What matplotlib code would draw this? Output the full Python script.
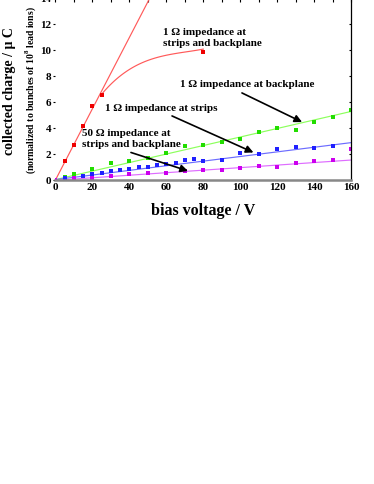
import numpy as np
import matplotlib
matplotlib.use("Agg")
import matplotlib.pyplot as plt
from matplotlib.ticker import MultipleLocator

plt.rcParams['font.family'] = ['Liberation Serif', 'DejaVu Serif']
plt.rcParams['font.weight'] = 'bold'
plt.rcParams['mathtext.fontset'] = 'custom'
plt.rcParams['mathtext.rm'] = 'Liberation Serif:bold'
plt.rcParams['mathtext.bf'] = 'Liberation Serif:bold'

# ---- data ----
red_V = [0, 5, 10, 15, 20, 25, 80]
red_Q = [0, 1.48, 2.75, 4.2, 5.72, 6.6, 9.87]
red_curve_V = [25, 33, 42, 51, 60, 70, 80]
red_curve_Q = [6.6, 7.8, 8.7, 9.25, 9.6, 9.9, 10.08]

green_V = [0, 5, 10, 20, 30, 40, 50, 60, 70, 80, 90, 100, 110, 120, 130, 140, 150, 160]
green_Q = [0, 0.25, 0.45, 0.85, 1.33, 1.48, 1.75, 2.08, 2.62, 2.74, 2.95, 3.18, 3.69, 4.05, 3.9, 4.49, 4.9, 5.44]

blue_V = [0, 5, 10, 15, 20, 25, 30, 35, 40, 45, 50, 55, 60, 65, 70, 75, 80, 90, 100, 110, 120, 130, 140, 150]
blue_Q = [0, 0.18, 0.2, 0.3, 0.45, 0.6, 0.68, 0.8, 0.85, 1.0, 1.02, 1.18, 1.28, 1.35, 1.58, 1.66, 1.49, 1.54, 2.13, 2.0, 2.43, 2.54, 2.49, 2.64]

mag_V = [0, 10, 20, 30, 40, 50, 60, 70, 80, 90, 100, 110, 120, 130, 140, 150, 160]
mag_Q = [0, 0.15, 0.2, 0.33, 0.45, 0.55, 0.57, 0.72, 0.79, 0.82, 0.93, 1.1, 1.05, 1.33, 1.46, 1.54, 2.4]

fit_V = [0, 160]
green_fit = [0.05, 5.3]
blue_fit = [0.05, 2.9]
mag_fit = [0.0, 1.56]

x_ticks = [0, 20, 40, 60, 80, 100, 120, 140, 160]
y_ticks = [0, 2, 4, 6, 8, 10, 12, 14]

W, H = 374, 484
fig = plt.figure(figsize=(W / 100, H / 100), dpi=100)
ax = fig.add_axes([55.3 / W, (H - 180.3) / H, 296 / W, 182 / H])

c_red, c_red_l = '#ee0000', '#ff5a5a'
c_grn, c_grn_l = '#22dd00', '#8cff5c'
c_blu, c_blu_l = '#2020ff', '#6c6cff'
c_mag, c_mag_l = '#cc00ee', '#de6cff'

# red straight line through origin (least squares on the first points)
rv = np.array(red_V[1:6]); rq = np.array(red_Q[1:6])
slope = np.sum(rv * rq) / np.sum(rv * rv)
lv = np.array([0, 60])
ax.plot(lv, slope * lv, color=c_red_l, lw=0.85)
# red saturating curve
pc = np.polyfit(red_curve_V, red_curve_Q, 3)
cv = np.linspace(red_curve_V[0], red_curve_V[-1], 100)
ax.plot(cv, np.polyval(pc, cv), color=c_red_l, lw=0.85)

ax.plot(fit_V, green_fit, color=c_grn_l, lw=0.85)
ax.plot(fit_V, blue_fit, color=c_blu_l, lw=0.85)
ax.plot(fit_V, mag_fit, color=c_mag_l, lw=0.85)

ms = 2.5
ax.plot(red_V, red_Q, 's', color=c_red, ms=ms, mew=0)
ax.plot(green_V, green_Q, 's', color=c_grn, ms=ms, mew=0)
ax.plot(blue_V, blue_Q, 's', color=c_blu, ms=ms, mew=0)
ax.plot(mag_V, mag_Q, 's', color=c_mag, ms=ms, mew=0)

ax.set_xlim(0, 160)
ax.set_ylim(0, 14)
ax.set_xticks(x_ticks)
ax.set_yticks(y_ticks)
ax.xaxis.set_minor_locator(MultipleLocator(10))

ax.spines['left'].set_visible(False)
ax.spines['bottom'].set_color('#888888')
ax.spines['bottom'].set_linewidth(1.8)
ax.spines['right'].set_linewidth(0.9)
ax.spines['top'].set_linewidth(0.9)

ax.tick_params(axis='x', which='both', bottom=False, top=True, direction='in',
               length=3, width=0.8, labelsize=8, pad=2)
ax.tick_params(axis='y', which='both', left=True, right=True, direction='out',
               length=1.8, width=0.8, labelsize=8, pad=1)
for t in ax.yaxis.get_major_ticks():
    t.tick2line.set_marker(matplotlib.lines.TICKLEFT)
for lab in ax.get_xticklabels() + ax.get_yticklabels():
    lab.set_fontweight('bold')

ax.set_xlabel('bias voltage / V', fontsize=11.5, fontweight='bold', labelpad=8)

fig.text(10 / W, 1 - 91 / H, 'collected charge / \u03bc C', rotation=90,
         ha='center', va='center', fontsize=10, fontweight='bold')
fig.text(31 / W, 1 - 90 / H, r'(normalized to bunches of 10$^{8}$ lead ions)', rotation=90,
         ha='center', va='center', fontsize=7, fontweight='bold')

fs = 8
ax.text(58.2, 10.96, '1 \u03a9 impedance at\nstrips and backplane', fontsize=fs,
        fontweight='bold', ha='left', va='center', linespacing=1.25)
ax.text(67.4, 7.38, '1 \u03a9 impedance at backplane', fontsize=fs,
        fontweight='bold', ha='left', va='center')
ax.text(26.9, 5.52, '1 \u03a9 impedance at strips', fontsize=fs,
        fontweight='bold', ha='left', va='center')
ax.text(14.4, 3.18, '50 \u03a9 impedance at\nstrips and backplane', fontsize=fs,
        fontweight='bold', ha='left', va='center', linespacing=1.25)

ap = dict(arrowstyle='-|>', color='black', lw=1.2, mutation_scale=11, shrinkA=0, shrinkB=0)
ax.annotate('', xy=(133.4, 4.48), xytext=(100.9, 6.72), arrowprops=ap)
ax.annotate('', xy=(107.1, 2.14), xytext=(63.1, 4.95), arrowprops=ap)
ax.annotate('', xy=(71.7, 0.72), xytext=(40.9, 2.14), arrowprops=ap)

fig.savefig('out.png', dpi=100)
